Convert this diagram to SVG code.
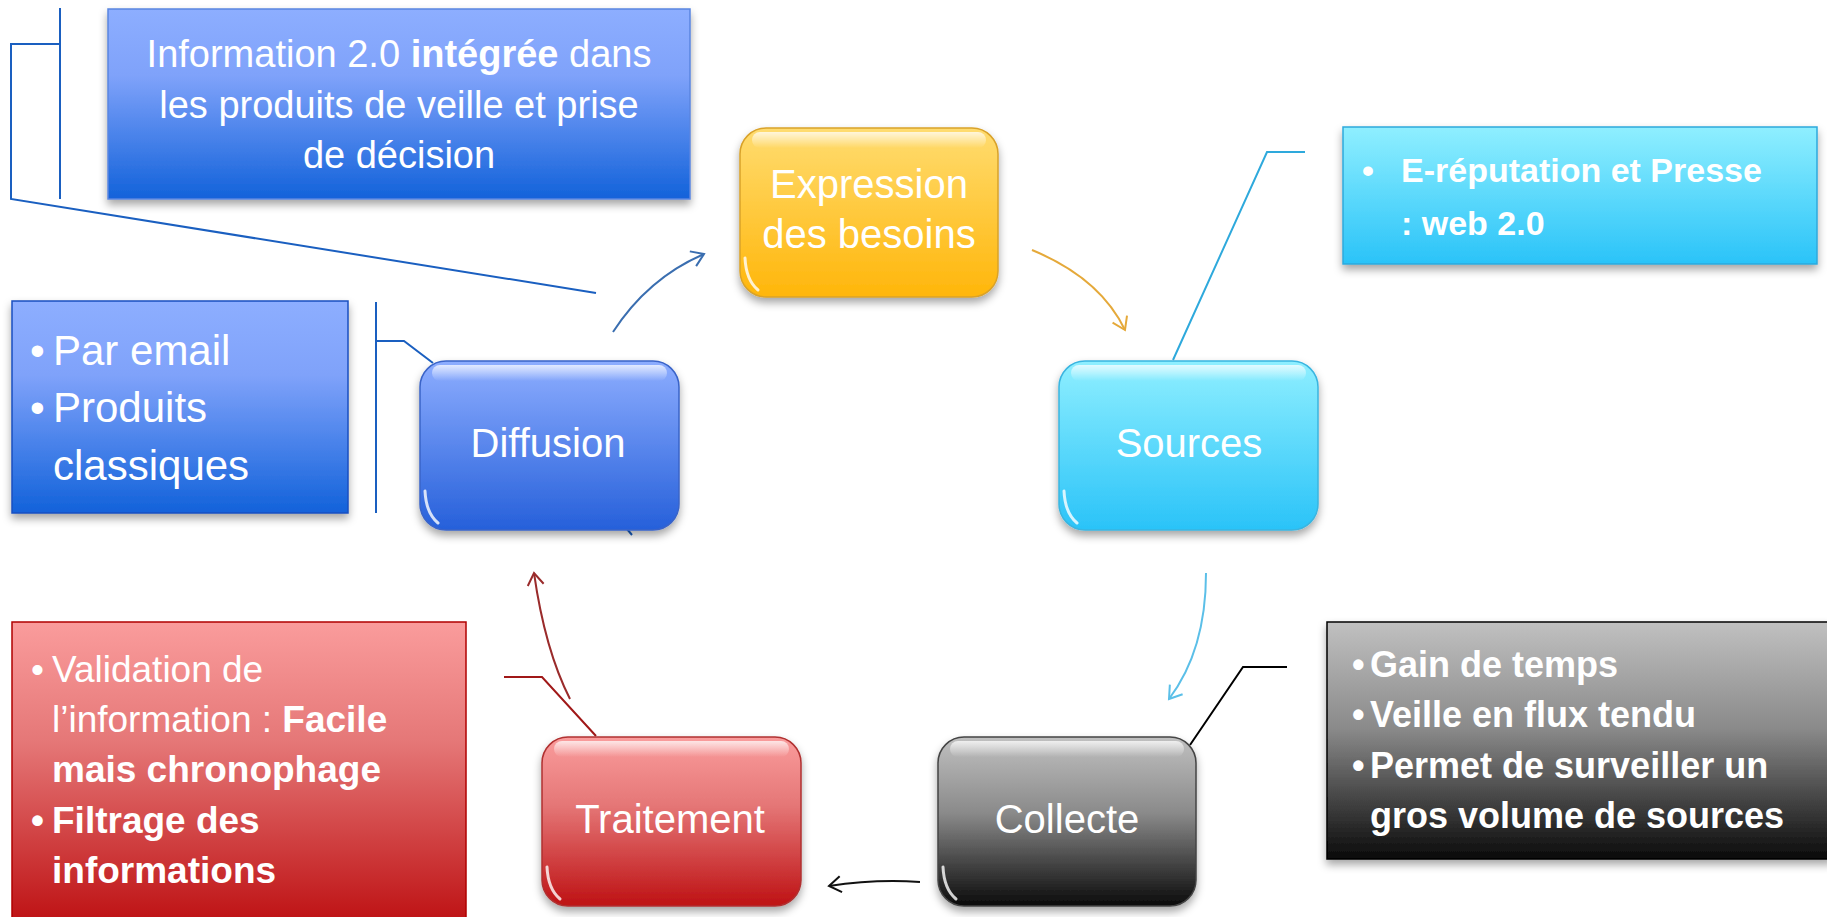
<svg xmlns="http://www.w3.org/2000/svg" width="1827" height="917" viewBox="0 0 1827 917">
<style>
.t{font-family:"Liberation Sans",Arial,sans-serif;fill:#fff}
.n{font-size:40px;text-anchor:middle}
.b{font-weight:bold}
.ln{fill:none;stroke-width:2}
.gl{fill:url(#gloss)}
.hl{fill:none;stroke:#fff;stroke-width:3;stroke-opacity:0.8;stroke-linecap:round}
</style>
<defs>
<filter id="sh" x="-10%" y="-10%" width="120%" height="125%"><feDropShadow dx="0" dy="5" stdDeviation="4" flood-color="#000" flood-opacity="0.35"/></filter>
<linearGradient id="gY" x1="0" y1="0" x2="0" y2="1"><stop offset="0" stop-color="#FFDC70"/><stop offset="1" stop-color="#FFB60A"/></linearGradient>
<linearGradient id="gC" x1="0" y1="0" x2="0" y2="1"><stop offset="0" stop-color="#8FEFFF"/><stop offset="1" stop-color="#2AC3F8"/></linearGradient>
<linearGradient id="gB" x1="0" y1="0" x2="0" y2="1"><stop offset="0" stop-color="#8DADFF"/><stop offset="1" stop-color="#2660DA"/></linearGradient>
<linearGradient id="gBB" x1="0" y1="0" x2="0" y2="1"><stop offset="0" stop-color="#8DAEFF"/><stop offset="0.35" stop-color="#7FA2FA"/><stop offset="1" stop-color="#1262DA"/></linearGradient>
<linearGradient id="gR" x1="0" y1="0" x2="0" y2="1"><stop offset="0" stop-color="#FA9C9C"/><stop offset="0.4" stop-color="#E57777"/><stop offset="1" stop-color="#BE1214"/></linearGradient>
<linearGradient id="gK" x1="0" y1="0" x2="0" y2="1"><stop offset="0" stop-color="#C0C0C0"/><stop offset="0.45" stop-color="#8A8A8A"/><stop offset="1" stop-color="#0A0A0A"/></linearGradient>
<linearGradient id="gloss" x1="0" y1="0" x2="0" y2="1"><stop offset="0" stop-color="#fff" stop-opacity="0.75"/><stop offset="1" stop-color="#fff" stop-opacity="0"/></linearGradient>
<marker id="aB" markerWidth="20" markerHeight="20" refX="14" refY="10" orient="auto" markerUnits="userSpaceOnUse"><path d="M2,2 L14,10 L2,18" fill="none" stroke="#3A6EB0" stroke-width="2"/></marker>
<marker id="aY" markerWidth="20" markerHeight="20" refX="14" refY="10" orient="auto" markerUnits="userSpaceOnUse"><path d="M2,2 L14,10 L2,18" fill="none" stroke="#E5A93A" stroke-width="2"/></marker>
<marker id="aC" markerWidth="20" markerHeight="20" refX="14" refY="10" orient="auto" markerUnits="userSpaceOnUse"><path d="M2,2 L14,10 L2,18" fill="none" stroke="#5BBFE8" stroke-width="2"/></marker>
<marker id="aK" markerWidth="20" markerHeight="20" refX="14" refY="10" orient="auto" markerUnits="userSpaceOnUse"><path d="M2,2 L14,10 L2,18" fill="none" stroke="#111" stroke-width="2"/></marker>
<marker id="aR" markerWidth="20" markerHeight="20" refX="14" refY="10" orient="auto" markerUnits="userSpaceOnUse"><path d="M2,2 L14,10 L2,18" fill="none" stroke="#9A2B2B" stroke-width="2"/></marker>
</defs>
<rect width="1827" height="917" fill="#fff"/>

<g id="connectors">
<path class="ln" d="M60,8 V199 M60,44 H11 V199 L596,293" stroke="#1A5FC0"/>
<path class="ln" d="M376,302 V513 M376,341 H404 L433,363" stroke="#1A5FC0"/>
<path class="ln" d="M627,529 L632,535" stroke="#1A5FC0"/>
<path class="ln" d="M1173,360 L1267,152 H1305" stroke="#2EA9DC"/>
<path class="ln" d="M1190,745 L1243,667 H1287" stroke="#000"/>
<path class="ln" d="M596,736 L542,677 H504" stroke="#A01818"/>
<path class="ln" d="M613,332 Q648,278 704,254" stroke="#3A6EB0" marker-end="url(#aB)"/>
<path class="ln" d="M1032,250 Q1100,278 1125,330" stroke="#E5A93A" marker-end="url(#aY)"/>
<path class="ln" d="M1206,573 Q1206,650 1169,699" stroke="#5BBFE8" marker-end="url(#aC)"/>
<path class="ln" d="M920,882 Q875,879 829,886" stroke="#111" marker-end="url(#aK)"/>
<path class="ln" d="M570,699 Q545,650 534,573" stroke="#9A2B2B" marker-end="url(#aR)"/>
</g>

<g id="node-info">
<rect x="108" y="9" width="582" height="190" fill="url(#gBB)" stroke="#5A85E0" stroke-width="1.5" filter="url(#sh)"/>
<text class="t" font-size="38" text-anchor="middle"><tspan x="399" y="67">Information 2.0 <tspan class="b">intégrée</tspan> dans</tspan><tspan x="399" y="118">les produits de veille et prise</tspan><tspan x="399" y="168">de décision</tspan></text>
</g>

<g id="node-expression">
<rect x="740" y="128" width="258" height="169" rx="26" fill="url(#gY)" stroke="#D9A22A" stroke-width="1.5" filter="url(#sh)"/>
<rect class="gl" x="752" y="132" width="234" height="16" rx="8"/>
<path class="hl" d="M745,258 Q746,280 758,290"/>
<text class="t n"><tspan x="869" y="198">Expression</tspan><tspan x="869" y="248">des besoins</tspan></text>
</g>

<g id="node-sources">
<rect x="1059" y="361" width="259" height="169" rx="26" fill="url(#gC)" stroke="#3AB5E0" stroke-width="1.5" filter="url(#sh)"/>
<rect class="gl" x="1071" y="365" width="235" height="16" rx="8"/>
<path class="hl" d="M1064,491 Q1065,513 1077,523"/>
<text class="t n" x="1189" y="457">Sources</text>
</g>

<g id="node-ereputation">
<rect x="1343" y="127" width="474" height="137" fill="url(#gC)" stroke="#2EA9DC" stroke-width="1.5" filter="url(#sh)"/>
<text class="t b" font-size="34"><tspan x="1362" y="182">•</tspan><tspan x="1401" y="182">E-réputation et Presse</tspan><tspan x="1401" y="235">: web 2.0</tspan></text>
</g>

<g id="node-diffusion">
<rect x="420" y="361" width="259" height="169" rx="26" fill="url(#gB)" stroke="#3A64C8" stroke-width="1.5" filter="url(#sh)"/>
<rect class="gl" x="432" y="365" width="235" height="16" rx="8"/>
<path class="hl" d="M425,491 Q426,513 438,523"/>
<text class="t n" x="548" y="457">Diffusion</text>
</g>

<g id="node-email">
<rect x="12" y="301" width="336" height="212" fill="url(#gBB)" stroke="#1A4FC0" stroke-width="1.5" filter="url(#sh)"/>
<text class="t" font-size="42"><tspan x="30" y="365">•</tspan><tspan x="53" y="365">Par email</tspan><tspan x="30" y="422">•</tspan><tspan x="53" y="422">Produits</tspan><tspan x="53" y="480">classiques</tspan></text>
</g>

<g id="node-traitement">
<rect x="542" y="737" width="259" height="169" rx="26" fill="url(#gR)" stroke="#B03030" stroke-width="1.5" filter="url(#sh)"/>
<rect class="gl" x="554" y="741" width="235" height="16" rx="8"/>
<path class="hl" d="M547,867 Q548,889 560,899"/>
<text class="t n" x="670" y="833">Traitement</text>
</g>

<g id="node-validation">
<rect x="12" y="622" width="454" height="300" fill="url(#gR)" stroke="#B00000" stroke-width="1.5"/>
<text class="t" font-size="37"><tspan x="31" y="682">•</tspan><tspan x="52" y="682">Validation de</tspan><tspan x="52" y="732">l’information : <tspan class="b">Facile</tspan></tspan><tspan class="b" x="52" y="782">mais chronophage</tspan><tspan class="b" x="31" y="833">•</tspan><tspan class="b" x="52" y="833">Filtrage des</tspan><tspan class="b" x="52" y="883">informations</tspan></text>
</g>

<g id="node-collecte">
<rect x="938" y="737" width="258" height="169" rx="26" fill="url(#gK)" stroke="#444" stroke-width="1.5" filter="url(#sh)"/>
<rect class="gl" x="950" y="741" width="234" height="16" rx="8"/>
<path class="hl" d="M943,867 Q944,889 956,899"/>
<text class="t n" x="1067" y="833">Collecte</text>
</g>

<g id="node-gain">
<rect x="1327" y="622" width="505" height="237" fill="url(#gK)" stroke="#000" stroke-width="1.5" filter="url(#sh)"/>
<text class="t b" font-size="36"><tspan x="1352" y="677">•</tspan><tspan x="1370" y="677">Gain de temps</tspan><tspan x="1352" y="727">•</tspan><tspan x="1370" y="727">Veille en flux tendu</tspan><tspan x="1352" y="778">•</tspan><tspan x="1370" y="778">Permet de surveiller un</tspan><tspan x="1370" y="828">gros volume de sources</tspan></text>
</g>
</svg>
